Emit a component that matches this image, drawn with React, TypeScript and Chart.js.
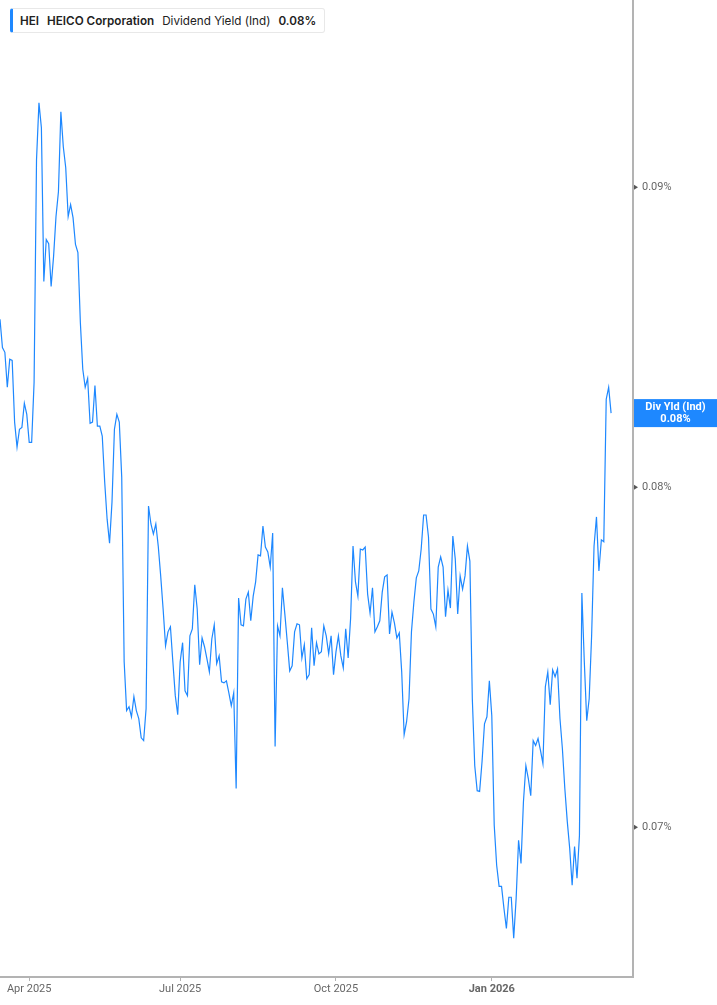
import { useEffect, useRef } from "react";
import { Chart, registerables } from "chart.js";

Chart.register(...registerables);

// one value per trading day, mid-Mar 2025 to mid-Mar 2026 (in %)
const yieldValues = [
  0.08545, 0.08451, 0.08435, 0.0832, 0.08412, 0.08408, 0.08207, 0.08127, 0.08184, 0.0819,
  0.08268, 0.08232, 0.08142, 0.08142, 0.08336, 0.09098, 0.09303, 0.09213, 0.08673, 0.08817,
  0.08803, 0.08656, 0.08758, 0.08897, 0.08984, 0.09271, 0.09144, 0.09069, 0.08897, 0.08939,
  0.08893, 0.088, 0.08772, 0.08535, 0.08379, 0.0832, 0.08349, 0.08203, 0.08207, 0.08326,
  0.08194, 0.08194, 0.08162, 0.08016, 0.079, 0.07826, 0.07953, 0.08184, 0.08232, 0.08207,
  0.08031, 0.0747, 0.07328, 0.07339, 0.0731, 0.07368, 0.07328, 0.07305, 0.0725, 0.07242,
  0.07333, 0.07941, 0.07885, 0.07854, 0.07885, 0.07817, 0.07726, 0.07626, 0.07517, 0.07558,
  0.07573, 0.0747, 0.07371, 0.07316, 0.0747, 0.07526, 0.07385, 0.07371, 0.07546, 0.07567,
  0.07699, 0.07626, 0.07461, 0.0754, 0.07514, 0.07478, 0.0744, 0.07537, 0.07579, 0.07464,
  0.07487, 0.07411, 0.07408, 0.07414, 0.07379, 0.07342, 0.07379, 0.07107, 0.07659, 0.07579,
  0.07576, 0.07656, 0.07677, 0.07591, 0.07665, 0.07708, 0.0779, 0.07787, 0.07879, 0.07814,
  0.07799, 0.07753, 0.07857, 0.07225, 0.07576, 0.07546, 0.0769, 0.07611, 0.07528, 0.07443,
  0.07458, 0.07558, 0.07582, 0.07579, 0.07481, 0.0752, 0.0742, 0.07432, 0.0757, 0.07458,
  0.07526, 0.07493, 0.07499, 0.07576, 0.07546, 0.07493, 0.07546, 0.07432, 0.07499, 0.07546,
  0.07487, 0.07452, 0.07567, 0.07481, 0.07597, 0.07817, 0.07708, 0.07665, 0.07808, 0.07805,
  0.07814, 0.07671, 0.07614, 0.0769, 0.07558, 0.07573, 0.07591, 0.07677, 0.07723, 0.07729,
  0.07552, 0.07617, 0.07585, 0.0754, 0.07555, 0.0744, 0.07259, 0.07296, 0.07362, 0.07558,
  0.07647, 0.0772, 0.07741, 0.07808, 0.07913, 0.07913, 0.07845, 0.07626, 0.07611, 0.07573,
  0.07753, 0.07784, 0.07753, 0.07603, 0.07683, 0.07629, 0.07848, 0.07777, 0.07611, 0.07726,
  0.07686, 0.07726, 0.07817, 0.07771, 0.07362, 0.07171, 0.07101, 0.07099, 0.07183, 0.0729,
  0.0731, 0.07414, 0.07313, 0.07005, 0.06896, 0.06839, 0.06839, 0.0678, 0.06727, 0.0681,
  0.0681, 0.06701, 0.06807, 0.06964, 0.06901, 0.0707, 0.07171, 0.07135, 0.07087, 0.07242,
  0.07228, 0.07248, 0.07214, 0.07177, 0.07397, 0.0744, 0.07345, 0.07446, 0.07426, 0.07449,
  0.07305, 0.07219, 0.07107, 0.07016, 0.06942, 0.06842, 0.06947, 0.06861, 0.06977, 0.07674,
  0.0747, 0.07299, 0.07362, 0.07546, 0.07817, 0.07907, 0.07741, 0.07836, 0.0783, 0.08281,
  0.0832, 0.08236,
];

// x ticks sit on the first trading day of each quarter
const tickIndex = [12, 74, 138, 202];
const tickLabels = ["Apr 2025", "Jul 2025", "Oct 2025", "Jan 2026"];
const yTicks = [0.07, 0.08, 0.09];

const BLUE = "#1e88ff";
const AXIS_GRAY = "#b3b3b3";
const TEXT_GRAY = "#666";

const pct = (v: number) => v.toFixed(2) + "%";

const markersPlugin = {
  id: "markers",
  afterDraw(chart: any) {
    const { ctx, chartArea } = chart;
    const y = chart.scales.y;

    // small arrow heads next to the y tick labels
    ctx.save();
    ctx.fillStyle = "#555";
    y.ticks.forEach((t: any) => {
      const py = y.getPixelForValue(t.value);
      ctx.beginPath();
      ctx.moveTo(chartArea.right + 1, py - 2.5);
      ctx.lineTo(chartArea.right + 5, py);
      ctx.lineTo(chartArea.right + 1, py + 2.5);
      ctx.closePath();
      ctx.fill();
    });

    // last value tag
    const last = yieldValues[yieldValues.length - 1];
    const py = y.getPixelForValue(last);
    const left = chartArea.right + 1;
    const w = chart.width - left;
    const h = 28;
    ctx.fillStyle = BLUE;
    ctx.fillRect(left, py - h / 2, w, h);
    ctx.fillStyle = "#fff";
    ctx.font = "bold 11px Roboto";
    ctx.textAlign = "center";
    ctx.textBaseline = "middle";
    ctx.fillText("Div Yld (Ind)", left + w / 2, py - 6);
    ctx.fillText(pct(last), left + w / 2, py + 6);
    ctx.restore();
  },
};

const DividendYieldChart = () => {
  const chartRef = useRef<HTMLCanvasElement>(null);
  const chartInstance = useRef<Chart | null>(null);

  useEffect(() => {
    document.body.style.margin = "0";
    if (!chartRef.current) return;
    if (chartInstance.current) chartInstance.current.destroy();

    chartInstance.current = new Chart(chartRef.current, {
      type: "line",
      data: {
        datasets: [
          {
            label: "Dividend Yield (Ind)",
            data: yieldValues.map((v, i) => ({ x: i, y: v })),
            borderColor: BLUE,
            borderWidth: 1.2,
            pointRadius: 0,
            tension: 0,
            fill: false,
          },
        ],
      },
      options: {
        animation: false,
        responsive: true,
        maintainAspectRatio: false,
        layout: { padding: 0 },
        plugins: {
          legend: { display: false },
          tooltip: { enabled: false },
        },
        scales: {
          x: {
            type: "linear",
            min: 0,
            max: 260,
            grid: {
              display: true,
              drawOnChartArea: false,
              drawTicks: true,
              tickLength: 4,
              color: AXIS_GRAY,
            },
            border: { display: true, color: AXIS_GRAY, width: 2 },
            afterBuildTicks: (scale: any) => {
              scale.ticks = tickIndex.map((v) => ({ value: v }));
            },
            afterFit: (scale: any) => {
              scale.height = 28;
              scale.paddingLeft = 0;
              scale.paddingRight = 0;
            },
            ticks: {
              autoSkip: false,
              maxRotation: 0,
              padding: 2,
              color: TEXT_GRAY,
              font: (c: any) => ({
                family: "Roboto",
                size: 11,
                weight: c.tick && c.tick.value === 202 ? "bold" : "normal",
              }),
              callback: (v: any) => tickLabels[tickIndex.indexOf(Number(v))],
            },
          },
          y: {
            type: "logarithmic",
            position: "right",
            min: 0.066149,
            max: 0.096866,
            grid: { display: false },
            border: { display: true, color: AXIS_GRAY, width: 2 },
            afterBuildTicks: (scale: any) => {
              scale.ticks = yTicks.map((v) => ({ value: v }));
            },
            afterFit: (scale: any) => {
              scale.width = 84;
              scale.paddingTop = 0;
              scale.paddingBottom = 0;
            },
            ticks: {
              padding: 1,
              color: TEXT_GRAY,
              font: { family: "Roboto", size: 11 },
              callback: (v: any) => pct(Number(v)),
            },
          },
        },
      },
      plugins: [markersPlugin],
    });

    return () => {
      if (chartInstance.current) {
        chartInstance.current.destroy();
        chartInstance.current = null;
      }
    };
  }, []);

  return (
    <div style={{ position: "relative", width: 717, height: 1005, background: "#fff" }}>
      <canvas ref={chartRef} />
      <div
        style={{
          position: "absolute",
          left: 10,
          top: 8,
          height: 23,
          display: "flex",
          alignItems: "center",
          gap: 8,
          padding: "0 8px 0 7px",
          background: "#fff",
          border: "1px solid #e8e8e8",
          borderLeft: `3px solid ${BLUE}`,
          borderRadius: 3,
          fontFamily: "Inter, sans-serif",
          fontSize: 11.7,
          color: "#222",
          whiteSpace: "nowrap",
        }}
      >
        <span style={{ fontWeight: 600 }}>HEI</span>
        <span style={{ fontWeight: 600 }}>HEICO Corporation</span>
        <span>Dividend Yield (Ind)</span>
        <span style={{ fontWeight: 600 }}>{pct(yieldValues[yieldValues.length - 1])}</span>
      </div>
    </div>
  );
};

export default function App() {
  return <DividendYieldChart />;
}
